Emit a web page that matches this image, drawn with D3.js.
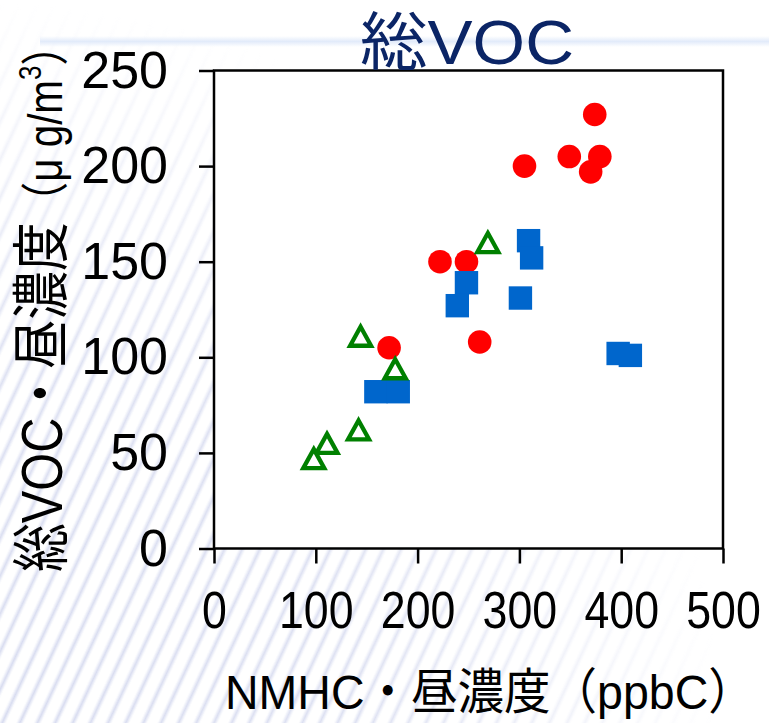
<!DOCTYPE html>
<html lang="ja">
<head>
<meta charset="utf-8">
<script src="https://cdn.jsdelivr.net/npm/d3@7"></script>
<style>
  html, body { margin: 0; padding: 0; background: #fff; }
  svg { display: block; }
  text { font-family: "Liberation Sans", "Noto Sans CJK JP", sans-serif; }
</style>
</head>
<body>
<svg id="chart" width="769" height="723"></svg>
<script>
// NMHC (ppbC) vs total VOC (µg/m3), daytime concentrations
const circleX = [374, 305, 349, 379, 370, 222, 248, 261, 172];
const circleY = [227, 200, 205, 205, 197, 150, 150, 108, 105];

const squareX = [309, 312, 248, 239, 301, 397, 409, 159, 181];
const squareY = [161, 152, 139, 127, 131, 102, 101, 82, 82];

const triangleX = [269, 144, 178, 142, 111, 98];
const triangleY = [160, 111, 94, 62, 55, 47];

const xTicks = [0, 100, 200, 300, 400, 500];
const yTicks = [0, 50, 100, 150, 200, 250];

const titleText = "総VOC";
const xTitle = "NMHC・昼濃度（ppbC）";
const yTitleMain = "総VOC・昼濃度";

const svg = d3.select("#chart");
const W = 769, H = 723;
const plotL = 214, plotR = 723, plotT = 70.5, plotB = 548.5;

const x = d3.scaleLinear().domain([0, 500]).range([plotL, plotR]);
const y = d3.scaleLinear().domain([0, 250]).range([plotB, plotT]);

// stretch or squeeze a text along its run so it spans `len` pixels
function fit(textSel, len, tx, ty, rot) {
  const natural = textSel.node().getComputedTextLength();
  const s = len / natural;
  textSel.attr("transform",
    `translate(${tx},${ty})` + (rot ? ` rotate(${rot})` : "") + ` scale(${s},1)`);
}

// ---- backdrop: soft diagonal stripes fading out from the lower left, faint band at top
const defs = svg.append("defs");
const pat = defs.append("pattern")
  .attr("id", "stripes").attr("patternUnits", "userSpaceOnUse")
  .attr("width", 16).attr("height", 40)
  .attr("patternTransform", "rotate(25)");
const sg = defs.append("linearGradient").attr("id", "stripeFill");
sg.append("stop").attr("offset", "0").attr("stop-color", "#d8dcf0").attr("stop-opacity", 0);
sg.append("stop").attr("offset", "0.5").attr("stop-color", "#d8dcf0").attr("stop-opacity", 1);
sg.append("stop").attr("offset", "1").attr("stop-color", "#d8dcf0").attr("stop-opacity", 0);
pat.append("rect").attr("x", 0).attr("y", 0).attr("width", 7).attr("height", 40)
  .attr("fill", "url(#stripeFill)");

const rg = defs.append("radialGradient").attr("id", "fade")
  .attr("gradientUnits", "userSpaceOnUse").attr("cx", 0).attr("cy", H).attr("r", 720);
rg.append("stop").attr("offset", "0").attr("stop-color", "#fff").attr("stop-opacity", 1);
rg.append("stop").attr("offset", "0.5").attr("stop-color", "#fff").attr("stop-opacity", 0.85);
rg.append("stop").attr("offset", "1").attr("stop-color", "#fff").attr("stop-opacity", 0);
defs.append("mask").attr("id", "fadeMask")
  .append("rect").attr("width", W).attr("height", H).attr("fill", "url(#fade)");

const bg = defs.append("linearGradient").attr("id", "band")
  .attr("x1", 0).attr("y1", 0).attr("x2", 0).attr("y2", 1);
bg.append("stop").attr("offset", "0").attr("stop-color", "#e2ebfa").attr("stop-opacity", 0);
bg.append("stop").attr("offset", "0.5").attr("stop-color", "#e2ebfa").attr("stop-opacity", 1);
bg.append("stop").attr("offset", "1").attr("stop-color", "#e2ebfa").attr("stop-opacity", 0);

svg.append("rect").attr("width", W).attr("height", H).attr("fill", "#fff");
svg.append("rect").attr("width", W).attr("height", H)
  .attr("fill", "url(#stripes)").attr("mask", "url(#fadeMask)");
svg.append("rect").attr("x", 40).attr("y", 36).attr("width", W - 40).attr("height", 11)
  .attr("fill", "url(#band)");

// ---- plot area
svg.append("rect")
  .attr("x", plotL).attr("y", plotT)
  .attr("width", plotR - plotL).attr("height", plotB - plotT)
  .attr("fill", "#fff");

// ---- axes
const yAxis = d3.axisLeft(y).tickValues(yTicks).tickSize(15).tickSizeOuter(0).tickPadding(31);
const xAxis = d3.axisBottom(x).tickValues(xTicks).tickSize(15).tickSizeOuter(0).tickPadding(28);

const gy = svg.append("g").attr("transform", `translate(${plotL},0)`).call(yAxis);
const gx = svg.append("g").attr("transform", `translate(0,${plotB})`).call(xAxis);

[gx, gy].forEach(g => {
  g.select(".domain").remove();
  g.selectAll(".tick line").attr("stroke", "#000").attr("stroke-width", 2.5);
  g.selectAll(".tick text").attr("fill", "#000").style("font-size", "52px");
});
// x tick labels use a narrower face
gx.selectAll(".tick text").attr("transform", "scale(0.86,1)");

// frame around the plot
svg.append("rect")
  .attr("x", plotL).attr("y", plotT)
  .attr("width", plotR - plotL).attr("height", plotB - plotT)
  .attr("fill", "none").attr("stroke", "#000").attr("stroke-width", 2.5);

// ---- markers
const circles = circleX.map((v, i) => ({ x: v, y: circleY[i] }));
const squares = squareX.map((v, i) => ({ x: v, y: squareY[i] }));
const triangles = triangleX.map((v, i) => ({ x: v, y: triangleY[i] }));

svg.append("g").selectAll("circle").data(circles).join("circle")
  .attr("cx", d => x(d.x)).attr("cy", d => y(d.y)).attr("r", 11.8)
  .attr("fill", "#ff0000");

const sq = 23.4;
svg.append("g").selectAll("rect").data(squares).join("rect")
  .attr("x", d => x(d.x) - sq / 2).attr("y", d => y(d.y) - sq / 2)
  .attr("width", sq).attr("height", sq)
  .attr("fill", "#0066cc");

const triPath = "M0,-9.5 L10.5,9.5 L-10.5,9.5 Z";
svg.append("g").selectAll("path").data(triangles).join("path")
  .attr("transform", d => `translate(${x(d.x)},${y(d.y)})`)
  .attr("d", triPath)
  .attr("fill", "#fff").attr("stroke", "#008000")
  .attr("stroke-width", 4.3).attr("stroke-linejoin", "miter");

// ---- titles
const tt = svg.append("text")
  .attr("fill", "#0b2566").style("font-size", "63px")
  .text(titleText);
fit(tt, 214, 360, 64, 0);

const xt = svg.append("text")
  .attr("fill", "#000").style("font-size", "49px")
  .text(xTitle);
fit(xt, 530, 225, 709, 0);

const yt = svg.append("text")
  .attr("fill", "#000").style("font-size", "58px");
yt.append("tspan").text(yTitleMain);
yt.append("tspan").style("font-size", "48px").text("（μ g/m");
yt.append("tspan").style("font-size", "31px").attr("dy", -21).text("3");
yt.append("tspan").style("font-size", "48px").attr("dy", 21).text("）");
fit(yt, 547, 62, 572, -90);
</script>
</body>
</html>
